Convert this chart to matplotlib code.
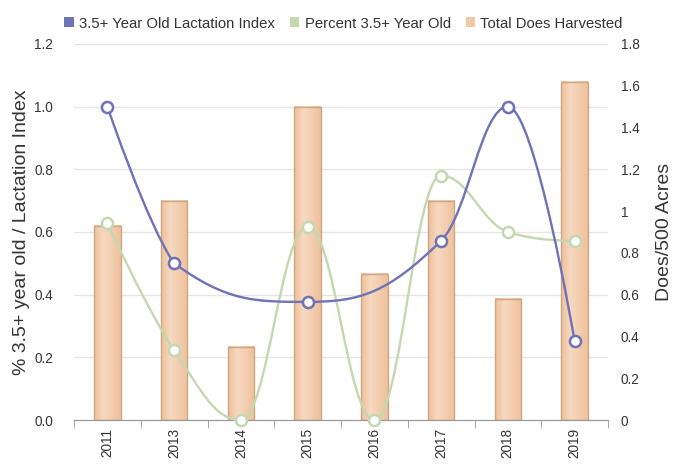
import numpy as np
import matplotlib
matplotlib.use('Agg')
import matplotlib.pyplot as plt
from matplotlib.path import Path
from matplotlib.patches import PathPatch, Patch
from matplotlib.colors import LinearSegmentedColormap

plt.rcParams['font.family'] = ['Liberation Sans', 'DejaVu Sans']

years = ['2011', '2013', '2014', '2015', '2016', '2017', '2018', '2019']
lactation_index = [1.0, 0.5, None, 0.377, None, 0.572, 1.0, 0.252]
percent_old = [0.628, 0.223, 0.0, 0.617, 0.0, 0.78, 0.6, 0.571]
does_harvested = [0.93, 1.05, 0.35, 1.5, 0.7, 1.05, 0.58, 1.62]

purple = '#6e72b6'
green = '#c4d8b0'
bar_fill = '#f2c9a6'
bar_edge = '#cfa582'
txt = '#333333'


def spline_path(xs, ys):
    # Highcharts-like spline (smoothing 1.5), as cubic bezier path
    pts = [(x, y) for x, y in zip(xs, ys) if y is not None]
    n = len(pts)
    right = [None] * n
    left = [None] * n
    sm, den = 1.5, 2.5
    for i in range(1, n - 1):
        px, py = pts[i]
        lx, ly = pts[i - 1]
        nx, ny = pts[i + 1]
        lcx = (sm * px + lx) / den
        lcy = (sm * py + ly) / den
        rcx = (sm * px + nx) / den
        rcy = (sm * py + ny) / den
        corr = 0
        if rcx != lcx:
            corr = (rcy - lcy) * (rcx - px) / (rcx - lcx) + py - rcy
        lcy += corr
        rcy += corr
        if lcy > ly and lcy > py:
            lcy = max(ly, py)
            rcy = 2 * py - lcy
        elif lcy < ly and lcy < py:
            lcy = min(ly, py)
            rcy = 2 * py - lcy
        if rcy > ny and rcy > py:
            rcy = max(ny, py)
            lcy = 2 * py - rcy
        elif rcy < ny and rcy < py:
            rcy = min(ny, py)
            lcy = 2 * py - rcy
        left[i] = (lcx, lcy)
        right[i] = (rcx, rcy)
    verts = [pts[0]]
    codes = [Path.MOVETO]
    for i in range(1, n):
        c1 = right[i - 1] if right[i - 1] is not None else pts[i - 1]
        c2 = left[i] if left[i] is not None else pts[i]
        verts += [c1, c2, pts[i]]
        codes += [Path.CURVE4] * 3
    return Path(verts, codes), pts


fig = plt.figure(figsize=(6.87, 4.68), dpi=100)
ax = fig.add_axes([74 / 687, 48 / 468, 534 / 687, 376 / 468])
ax2 = ax.twinx()

x = np.arange(len(years))

# bars on right axis, with a soft horizontal gradient
bars = ax2.bar(x, does_harvested, width=0.4, facecolor='none', edgecolor=bar_edge,
               linewidth=1, zorder=3)
grad_cmap = LinearSegmentedColormap.from_list(
    'bar', [(0, '#eebf9a'), (0.35, '#f6d9c2'), (1, '#efc19c')])
grad = np.linspace(0, 1, 64).reshape(1, -1)
for rect in bars:
    x0, w, h = rect.get_x(), rect.get_width(), rect.get_height()
    ax2.imshow(grad, cmap=grad_cmap, extent=[x0, x0 + w, 0, h], aspect='auto',
               zorder=2, interpolation='bilinear')

ax2.set_xlim(-0.5, len(years) - 0.5)
ax2.set_ylim(0, 1.8)
ax2.set_yticks(np.arange(0, 1.81, 0.2))
ax2.set_yticklabels(['0', '0.2', '0.4', '0.6', '0.8', '1', '1.2', '1.4', '1.6', '1.8'])
ax2.set_ylabel('Does/500 Acres', fontsize=14, color=txt, labelpad=12)

# lines on left axis, drawn above bars
ax.set_zorder(ax2.get_zorder() + 1)
ax.patch.set_visible(False)
ax.set_ylim(0, 1.2)
ax.set_xlim(-0.5, len(years) - 0.5)
ax.set_yticks(np.arange(0, 1.21, 0.2))
ax.set_yticklabels(['%.1f' % v for v in np.arange(0, 1.21, 0.2)])
ax.set_ylabel('% 3.5+ year old / Lactation Index', fontsize=14, color=txt, labelpad=3)

for b in np.arange(0.2, 1.21, 0.2):
    ax2.axhline(b * 1.5, color='#e6e6e6', linewidth=1, zorder=0)

for vals, col in [(percent_old, green), (lactation_index, purple)]:
    path, pts = spline_path(x, vals)
    ax.add_patch(PathPatch(path, facecolor='none', edgecolor=col, linewidth=1.7,
                           zorder=3, clip_on=False))
    px = [p[0] for p in pts]
    py = [p[1] for p in pts]
    ax.plot(px, py, linestyle='none', marker='o', markersize=8,
            markerfacecolor='white', markeredgecolor=col, markeredgewidth=1.8,
            zorder=4, clip_on=False)

ax.set_xticks(x)
ax.set_xticklabels(years, rotation=90, fontsize=9.8, color=txt)
ax.set_xticks(np.arange(-0.5, len(years)), minor=True)
ax.tick_params(axis='x', which='major', length=0, pad=6)
ax.tick_params(axis='x', which='minor', length=6, color='#999999', direction='out')
ax.tick_params(axis='y', length=0, labelsize=9.8, labelcolor=txt, pad=15)
ax2.tick_params(axis='y', length=0, labelsize=9.8, labelcolor=txt, pad=9)

for a in (ax, ax2):
    for s in ['top', 'left', 'right']:
        a.spines[s].set_visible(False)
    a.spines['bottom'].set_color('#999999')

handles = [Patch(facecolor=purple), Patch(facecolor=green), Patch(facecolor=bar_fill)]
labels = ['3.5+ Year Old Lactation Index', 'Percent 3.5+ Year Old', 'Total Does Harvested']
fig.legend(handles, labels, loc='upper center', bbox_to_anchor=(0.5, 0.993), ncol=3,
           frameon=False, fontsize=10.7, handlelength=0.65, handleheight=0.65,
           handletextpad=0.35, columnspacing=1.0, labelcolor=txt)

fig.savefig('out.png', dpi=100)
